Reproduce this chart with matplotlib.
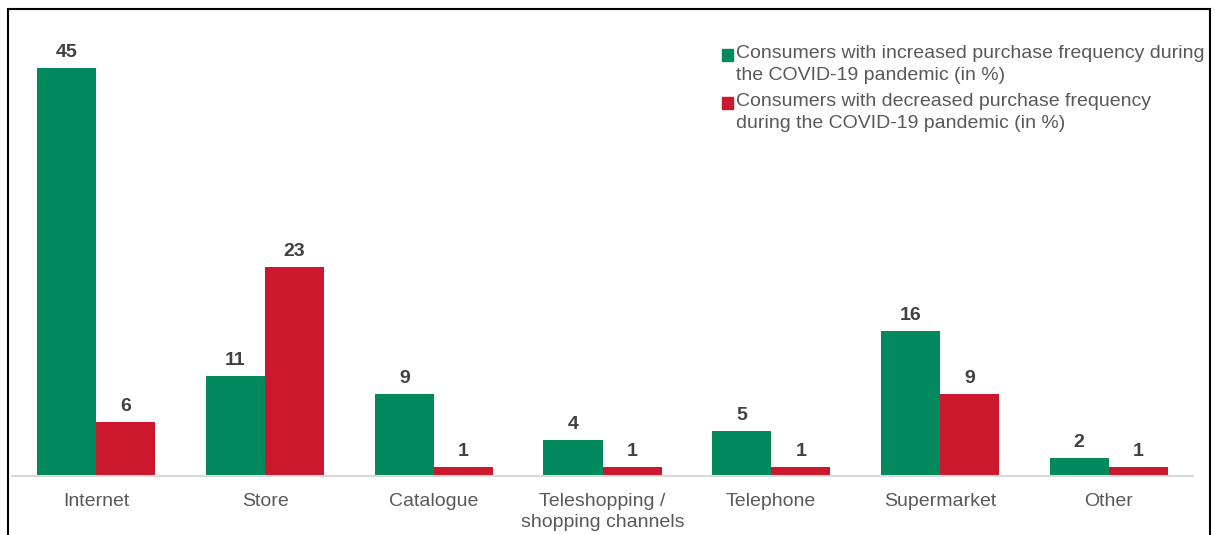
import matplotlib.pyplot as plt
from matplotlib.patches import Rectangle
import numpy as np

plt.rcParams['font.family'] = ['Liberation Sans', 'DejaVu Sans']

channels = ['Internet', 'Store', 'Catalogue', 'Teleshopping /\nshopping channels',
            'Telephone', 'Supermarket', 'Other']
increased = [45, 11, 9, 4, 5, 16, 2]
decreased = [6, 23, 1, 1, 1, 9, 1]
series_names = ['Consumers with increased purchase frequency during\nthe COVID-19 pandemic (in %)',
                'Consumers with decreased purchase frequency\nduring the COVID-19 pandemic (in %)']

green = '#03895e'
red = '#cc182d'
text_grey = '#595959'
label_grey = '#404040'

W, H = 1215, 535
fig = plt.figure(figsize=(W / 100, H / 100), dpi=100)
ax = fig.add_axes([12 / W, (H - 476) / H, (1193 - 12) / W, (476 - 22.5) / H])

x = np.arange(len(channels))
bw = 0.35
b1 = ax.bar(x - bw / 2, increased, bw, color=green)
b2 = ax.bar(x + bw / 2, decreased, bw, color=red)

for bars in (b1, b2):
    ax.bar_label(bars, padding=5, fontsize=14, fontweight='bold', color=label_grey)

ax.set_xlim(-0.5, len(channels) - 0.5)
ax.set_ylim(0, 50)
ax.set_xticks(x)
ax.set_xticklabels(channels, fontsize=14, color=text_grey, linespacing=1.25)
ax.tick_params(axis='x', length=0, pad=12.5)
ax.set_yticks([])
for s in ('top', 'right', 'left'):
    ax.spines[s].set_visible(False)
ax.spines['bottom'].set_color('#d9d9d9')
ax.spines['bottom'].set_linewidth(1.5)

# legend drawn by hand: small square next to the first line of each entry
for name, col, yc in zip(series_names, (green, red), (55, 103)):
    fig.add_artist(Rectangle((722 / W, (H - yc - 5.5) / H), 11 / W, 11 / H,
                             transform=fig.transFigure, color=col))
    fig.text(736 / W, (H - yc + 10) / H, name, fontsize=14, color=text_grey,
             ha='left', va='top', linespacing=1.35)

# outer frame, its bottom edge runs off the canvas
fig.add_artist(Rectangle((8 / W, -0.1), (1210 - 8) / W, (H - 9) / H + 0.1,
                         transform=fig.transFigure, fill=False,
                         edgecolor='black', linewidth=1.5))

fig.savefig('out.png', dpi=100)
